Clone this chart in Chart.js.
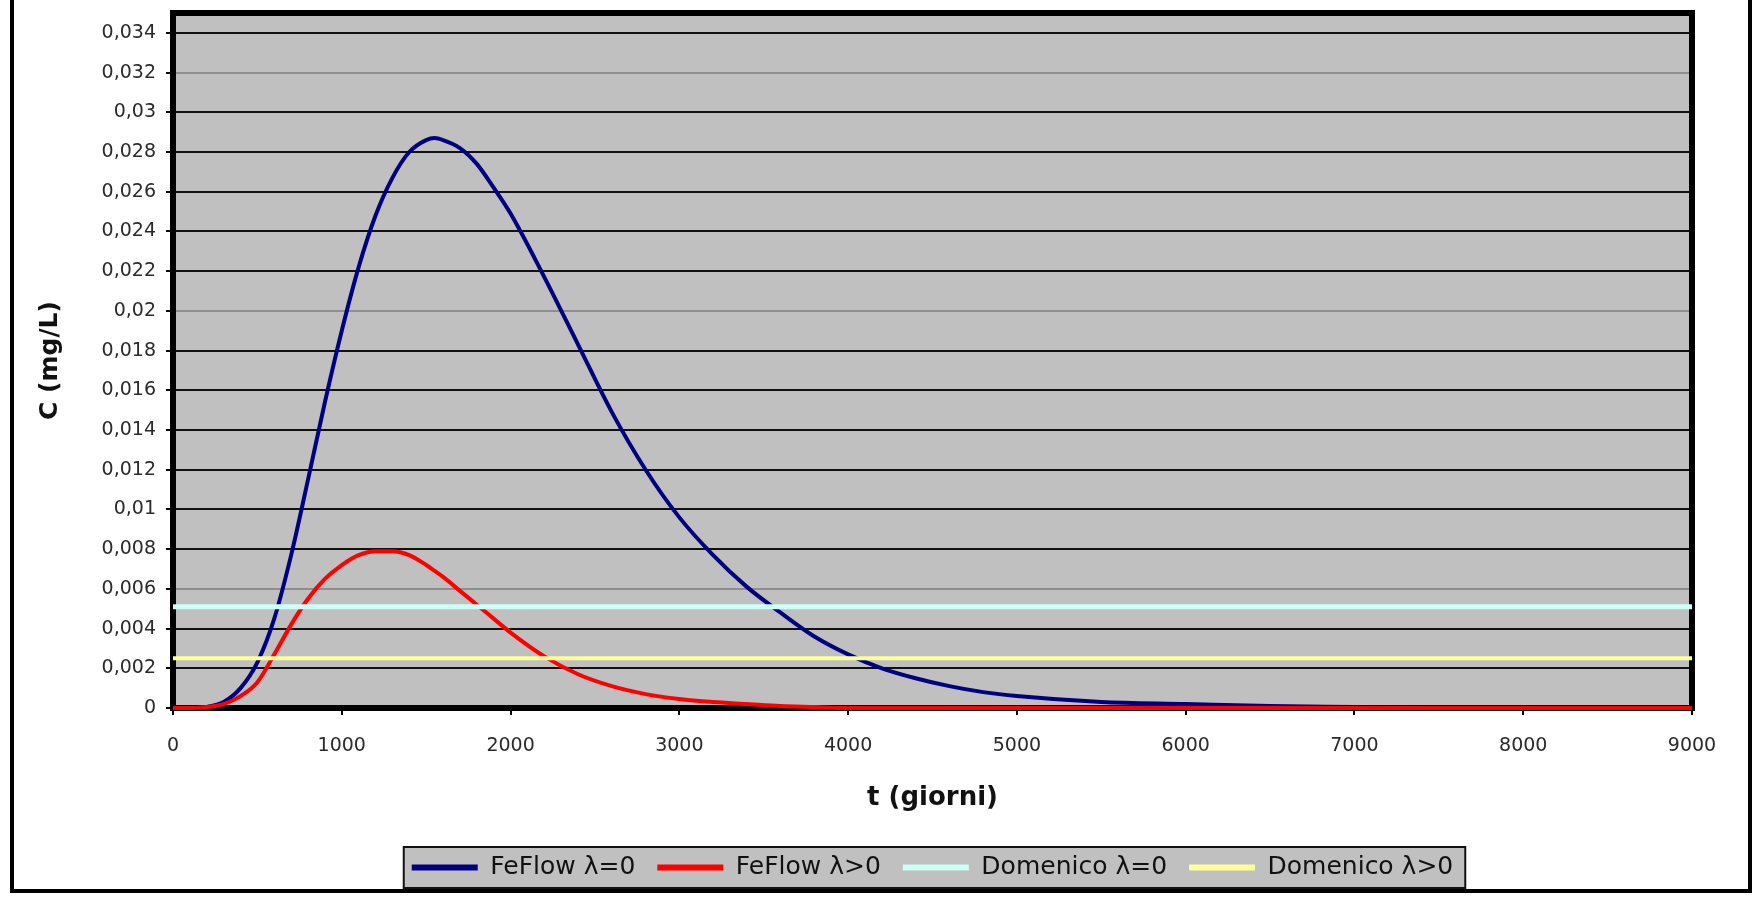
<!DOCTYPE html>
<html>
<head>
<meta charset="utf-8">
<title>C (mg/L) - t (giorni)</title>
<script src="https://cdn.jsdelivr.net/npm/chart.js@4/dist/chart.umd.min.js"></script>
<style>
    html, body { margin: 0; padding: 0; background: #fff; }
    #wrap { position: relative; width: 1754px; height: 898px; overflow: hidden; }
    #frame { position: absolute; left: 10px; right: 2px; top: -10px; bottom: 5px; border: 4px solid #000; pointer-events: none; }
    canvas { display: block; }
</style>
</head>
<body>
<div id="wrap">
    <canvas id="chart" width="1754" height="898"></canvas>
    <div id="frame"></div>
</div>
<script>
// time in days and concentrations in mg/L
const tDays = [0, 100, 200, 300, 400, 500, 600, 700, 800, 900, 1000, 1100, 1200, 1300, 1400, 1500, 1550, 1600, 1700, 1800, 1900, 2000,
    2200, 2400, 2600, 2800, 3000, 3200, 3400, 3600, 3800, 4000, 4200, 4400, 4600, 4800, 5000,
    5500, 6000, 6500, 7000, 7500, 8000, 8500, 9000];
const feflowNoDecay = [0, 0, 0.00005, 0.0003, 0.0010, 0.0023, 0.0045, 0.0077, 0.0115, 0.0154, 0.0190, 0.0222, 0.0248, 0.0267, 0.0280, 0.0286, 0.0287, 0.0286, 0.0282, 0.0274, 0.0262, 0.0249,
    0.0217, 0.0183, 0.0149, 0.0120, 0.0096, 0.0077, 0.0061, 0.0048, 0.0036, 0.0027, 0.0020, 0.0015, 0.0011, 0.0008, 0.0006,
    0.0003, 0.0002, 0.0001, 0.00005, 0, 0, 0, 0];
const feflowDecay = [0, 0, 0.00005, 0.0002, 0.0006, 0.0013, 0.0027, 0.0042, 0.0055, 0.0065, 0.0072, 0.0077, 0.0079, 0.0079, 0.0077, 0.0072, 0.0069, 0.0066, 0.0059, 0.0052, 0.0045, 0.0038,
    0.0026, 0.0017, 0.0011, 0.0007, 0.00045, 0.0003, 0.0002, 0.0001, 0.00005, 0, 0, 0, 0, 0, 0,
    0, 0, 0, 0, 0, 0, 0, 0];
const domenicoDays = [0, 9000];
const domenicoNoDecay = [0.0051, 0.0051];
const domenicoDecay = [0.0025, 0.0025];

const seriesNames = ['FeFlow λ=0', 'FeFlow λ>0', 'Domenico λ=0', 'Domenico λ>0'];
const xTicks = ['0', '1000', '2000', '3000', '4000', '5000', '6000', '7000', '8000', '9000'];
const yTicks = ['0', '0,002', '0,004', '0,006', '0,008', '0,01', '0,012', '0,014', '0,016', '0,018',
    '0,02', '0,022', '0,024', '0,026', '0,028', '0,03', '0,032', '0,034'];

const FONT = 'DejaVu Sans';
const fadedGrid = ['0,032', '0,02', '0,006'];

function points(xs, ys) {
    return xs.map((x, i) => ({ x: x, y: ys[i] }));
}

// grey plot area, thick plot border and the grey legend box
const plotFrame = {
    id: 'plotFrame',
    beforeDraw(chart) {
        const { ctx, chartArea: a } = chart;
        ctx.save();
        ctx.fillStyle = '#c0c0c0';
        ctx.fillRect(a.left, a.top, a.right - a.left, a.bottom - a.top);

        const boxes = chart.legend && chart.legend.legendHitBoxes;
        if (boxes && boxes.length) {
            const left = Math.min(...boxes.map(b => b.left)) - 8;
            const right = Math.max(...boxes.map(b => b.left + b.width)) + 12;
            const top = Math.min(...boxes.map(b => b.top)) - 8;
            const bottom = Math.max(...boxes.map(b => b.top + b.height)) + 8;
            ctx.fillStyle = '#c0c0c0';
            ctx.fillRect(left, top, right - left, bottom - top);
            ctx.strokeStyle = '#111';
            ctx.lineWidth = 2;
            ctx.strokeRect(left, top, right - left, bottom - top);
        }
        ctx.restore();
    },
    beforeDatasetsDraw(chart) {
        const { ctx, chartArea: a } = chart;
        ctx.save();
        ctx.strokeStyle = '#000';
        ctx.lineWidth = 6;
        ctx.strokeRect(a.left, a.top, a.right - a.left, a.bottom - a.top);
        ctx.restore();
    }
};

const ctx = document.getElementById('chart');
new Chart(ctx, {
    type: 'line',
    data: {
        datasets: [{
            label: seriesNames[0],
            data: points(tDays, feflowNoDecay),
            borderColor: '#000080',
            borderWidth: 4,
            order: 4
        }, {
            label: seriesNames[1],
            data: points(tDays, feflowDecay),
            borderColor: '#ff0000',
            borderWidth: 4,
            order: 3
        }, {
            label: seriesNames[2],
            data: points(domenicoDays, domenicoNoDecay),
            borderColor: '#ccfff5',
            borderWidth: 5,
            order: 2
        }, {
            label: seriesNames[3],
            data: points(domenicoDays, domenicoDecay),
            borderColor: '#ffff99',
            borderWidth: 4,
            order: 1
        }]
    },
    options: {
        responsive: false,
        animation: false,
        clip: 6,
        elements: {
            point: { radius: 0 },
            line: { cubicInterpolationMode: 'monotone', fill: false }
        },
        layout: { padding: { top: 13, right: 62, bottom: 8, left: 0 } },
        plugins: {
            tooltip: { enabled: false },
            legend: {
                position: 'bottom',
                fullSize: false,
                labels: {
                    font: { family: FONT, size: 25 },
                    color: '#111',
                    boxWidth: 66,
                    boxHeight: 6,
                    padding: 22,
                    sort: (a, b) => a.datasetIndex - b.datasetIndex,
                    generateLabels: chart => chart.data.datasets.map((ds, i) => ({
                        text: ds.label,
                        fillStyle: ds.borderColor,
                        strokeStyle: ds.borderColor,
                        lineWidth: 0,
                        fontColor: '#111',
                        hidden: false,
                        datasetIndex: i
                    }))
                }
            }
        },
        scales: {
            x: {
                type: 'linear',
                min: 0,
                max: 9000,
                afterBuildTicks: scale => { scale.ticks = xTicks.map(v => ({ value: Number(v) })); },
                afterFit: scale => { scale.height = 125; },
                border: { display: false },
                grid: { drawOnChartArea: false, drawTicks: true, tickLength: 7, tickColor: '#000', lineWidth: 2 },
                ticks: {
                    font: { family: FONT, size: 19 },
                    color: '#2a2a2a',
                    padding: 20,
                    maxRotation: 0,
                    autoSkip: false,
                    callback: (value, index) => xTicks[index]
                },
                title: {
                    display: true,
                    text: 't (giorni)',
                    font: { family: FONT, size: 26, weight: 'bold' },
                    color: '#111',
                    padding: { top: 0, bottom: 19 }
                }
            },
            y: {
                min: 0,
                max: 0.035,
                afterBuildTicks: scale => { scale.ticks = yTicks.map(s => ({ value: parseFloat(s.replace(',', '.')) })); },
                afterFit: scale => {
                    scale.width = 173;
                    // top label sits well below the plot edge, no extra room needed
                    scale.paddingTop = 0;
                    scale.paddingBottom = 0;
                },
                border: { display: false },
                grid: {
                    drawTicks: true,
                    tickLength: 7,
                    tickColor: '#000',
                    lineWidth: 2,
                    color: c => (c.tick && fadedGrid.includes(yTicks[c.index])) ? '#8e8e8e' : '#111'
                },
                ticks: {
                    font: { family: FONT, size: 19 },
                    color: '#2a2a2a',
                    padding: 10,
                    autoSkip: false,
                    callback: (value, index) => yTicks[index]
                },
                title: {
                    display: true,
                    text: 'C (mg/L)',
                    font: { family: FONT, size: 25, weight: 'bold' },
                    color: '#111',
                    padding: { top: 35, bottom: 0 }
                }
            }
        }
    },
    plugins: [plotFrame]
});
</script>
</body>
</html>
